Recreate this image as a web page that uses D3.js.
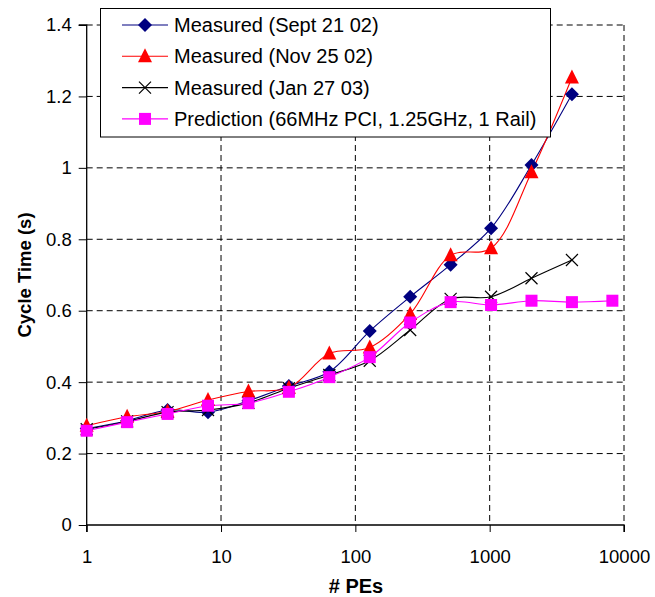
<!DOCTYPE html>
<html><head><meta charset="utf-8">
<script src="https://cdnjs.cloudflare.com/ajax/libs/d3/7.8.5/d3.min.js"></script>
<style>body{margin:0;background:#fff}svg{display:block}text{font-family:"Liberation Sans",Arial,sans-serif}</style>
</head><body><svg id="c" width="655" height="597"></svg>
<script>
const pes = [1,2,4,8,16,32,64,128,256,512,1024,2048,4096];
const pesPred = [1,2,4,8,16,32,64,128,256,512,1024,2048,4096,8192];
const sept = [0.270,0.292,0.322,0.316,0.348,0.389,0.429,0.543,0.639,0.729,0.831,1.008,1.206];
const nov  = [0.278,0.303,0.318,0.350,0.374,0.384,0.480,0.497,0.591,0.755,0.775,0.988,1.253];
const jan  = [0.268,0.290,0.316,0.322,0.342,0.383,0.420,0.460,0.546,0.633,0.639,0.691,0.742];
const pred = [0.264,0.288,0.311,0.334,0.341,0.373,0.414,0.470,0.567,0.624,0.616,0.628,0.624,0.628];
const xTicks = [1,10,100,1000,10000];
const yTicks = [0,0.2,0.4,0.6,0.8,1,1.2,1.4];
const seriesNames = ["Measured (Sept 21 02)","Measured (Nov 25 02)","Measured (Jan 27 03)","Prediction (66MHz PCI, 1.25GHz, 1 Rail)"];

const series = [
  {name:seriesNames[0], xs:pes, ys:sept, color:"#000080", marker:"diamond"},
  {name:seriesNames[1], xs:pes, ys:nov, color:"#FF0000", marker:"triangle"},
  {name:seriesNames[2], xs:pes, ys:jan, color:"#000000", marker:"cross"},
  {name:seriesNames[3], xs:pesPred, ys:pred, color:"#FF00FF", marker:"square"}
];

const svg = d3.select("#c");
const L=86.7, R=624, T=25, B=525;
const x = d3.scaleLog().domain([1,10000]).range([L,R]);
const y = d3.scaleLinear().domain([0,1.4]).range([B,T]);

// gridlines
const g = svg.append("g");
g.selectAll(".gx").data(xTicks.slice(1)).join("line")
  .attr("x1",d=>x(d)).attr("x2",d=>x(d)).attr("y1",T).attr("y2",B)
  .attr("stroke","#000").attr("stroke-width",1).attr("stroke-dasharray","6,4");
g.selectAll(".gy").data(yTicks.slice(1)).join("line")
  .attr("x1",L).attr("x2",R).attr("y1",d=>y(d)).attr("y2",d=>y(d))
  .attr("stroke","#000").attr("stroke-width",1).attr("stroke-dasharray","6,4");

// axes
const xAxis = d3.axisBottom(x).tickValues(xTicks).tickFormat(d3.format("d")).tickSize(7).tickPadding(18);
const yAxis = d3.axisLeft(y).tickValues(yTicks).tickFormat(d=>d===0?"0":d3.format("")(d)).tickSize(8).tickPadding(7);
const gx = svg.append("g").attr("transform",`translate(0,${B})`).call(xAxis);
const gy = svg.append("g").attr("transform",`translate(${L},0)`).call(yAxis);
[gx,gy].forEach(a=>{
  a.select(".domain").attr("stroke","#000").attr("stroke-width",1.3);
  a.selectAll(".tick line").attr("stroke","#000");
  a.selectAll("text").attr("font-size",18.5).attr("fill","#000").attr("font-family",'"Liberation Sans",Arial,sans-serif');
});
gy.select(".domain").attr("d",`M-8,${T}H0V${B}`);
gx.select(".domain").attr("d",`M${L},7V0H${R}V7`);

// axis titles
svg.append("text").attr("x",356).attr("y",593).attr("text-anchor","middle")
  .attr("font-size",20).attr("font-weight","bold").text("# PEs");
svg.append("text").attr("transform",`translate(31,275) rotate(-90)`).attr("text-anchor","middle")
  .attr("font-size",18.5).attr("font-weight","bold").text("Cycle Time (s)");

function marker(sel, type, color){
  if(type==="diamond"){
    sel.append("path").attr("d","M0,-7L7,0L0,7L-7,0Z").attr("fill",color);
  } else if(type==="triangle"){
    sel.append("path").attr("d","M0,-8L7,6L-7,6Z").attr("fill",color);
  } else if(type==="cross"){
    sel.append("path").attr("d","M-6,-6L6,6M-6,6L6,-6").attr("stroke",color).attr("stroke-width",1.2).attr("fill","none");
  } else {
    sel.append("rect").attr("x",-6).attr("y",-6).attr("width",12).attr("height",12).attr("fill",color);
  }
}

const line = d3.line().x(d=>x(d[0])).y(d=>y(d[1])).curve(d3.curveCatmullRom.alpha(0.5));
series.forEach(s=>{
  const pts = s.xs.map((v,i)=>[v,s.ys[i]]);
  svg.append("path").attr("d",line(pts)).attr("fill","none").attr("stroke",s.color).attr("stroke-width",1.1);
});
series.forEach(s=>{
  const pts = s.xs.map((v,i)=>[v,s.ys[i]]);
  pts.forEach(p=>{
    const m = svg.append("g").attr("transform",`translate(${x(p[0])},${y(p[1])})`);
    marker(m, s.marker, s.color);
  });
});

// legend
const lg = svg.append("g");
lg.append("rect").attr("x",100.5).attr("y",8.5).attr("width",450).attr("height",128.5)
  .attr("fill","#fff").attr("stroke","#000").attr("stroke-width",1);
series.forEach((s,i)=>{
  const yy = 25 + i*31.3;
  lg.append("line").attr("x1",122).attr("x2",168).attr("y1",yy).attr("y2",yy).attr("stroke",s.color).attr("stroke-width",1.1);
  const m = lg.append("g").attr("transform",`translate(145,${yy})`);
  marker(m, s.marker, s.color);
  lg.append("text").attr("x",174).attr("y",yy+7).attr("font-size",20).attr("fill","#000").text(s.name);
});
</script></body></html>
